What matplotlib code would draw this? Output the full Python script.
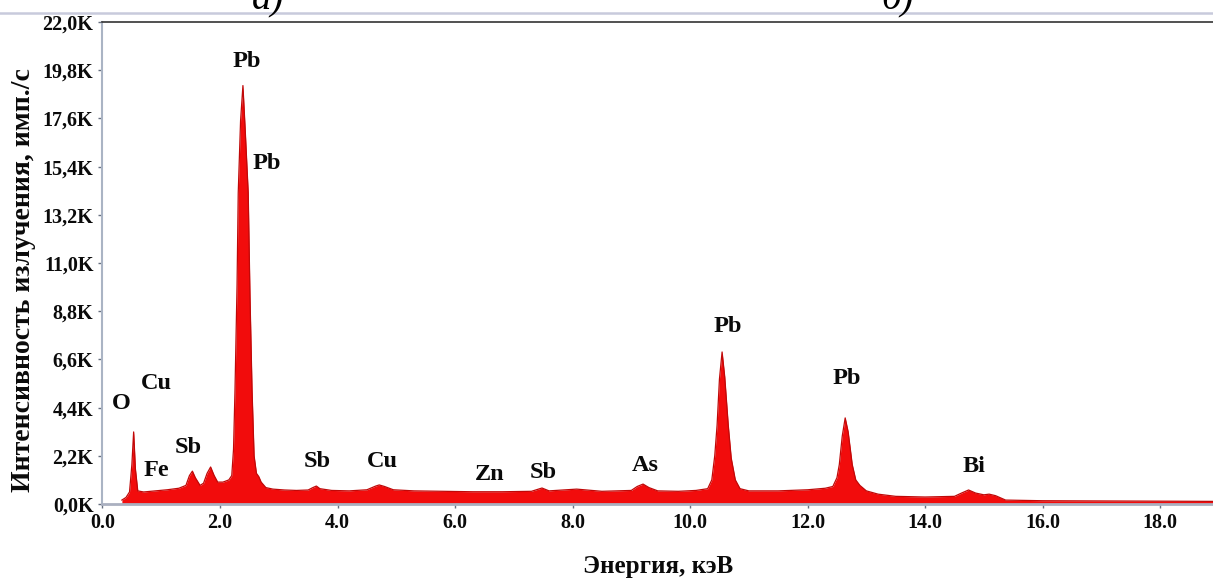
import matplotlib
matplotlib.use("Agg")
import matplotlib.pyplot as plt
from matplotlib.lines import Line2D

# EDS spectrum, energy in keV and intensity in counts/s
energy = [0.33, 0.40, 0.46, 0.50, 0.53, 0.56, 0.60, 0.70, 0.90, 1.10, 1.30,
          1.42, 1.48, 1.53, 1.58, 1.66, 1.72, 1.78, 1.84, 1.90, 1.96, 2.05,
          2.15, 2.20, 2.23, 2.255, 2.29, 2.31, 2.35, 2.39, 2.43, 2.48, 2.51,
          2.545, 2.58, 2.62, 2.66, 2.70, 2.78, 2.90, 3.10, 3.30, 3.50, 3.58,
          3.64, 3.70, 3.90, 4.20, 4.50, 4.65, 4.71, 4.80, 4.95, 5.30, 5.80,
          6.30, 6.80, 7.30, 7.48, 7.60, 8.07, 8.50, 9.00, 9.10, 9.20, 9.30,
          9.45, 9.80, 10.10, 10.30, 10.37, 10.42, 10.46, 10.50, 10.545, 10.59,
          10.65, 10.70, 10.77, 10.85, 11.00, 11.50, 12.00, 12.30, 12.43, 12.50,
          12.54, 12.59, 12.64, 12.69, 12.76, 12.82, 12.89, 13.00, 13.20, 13.50,
          14.00, 14.50, 14.62, 14.74, 14.86, 15.00, 15.09, 15.20, 15.37, 16.00,
          17.00, 18.00, 18.90]
counts = [180, 300, 550, 1800, 3290, 1600, 600, 550, 600, 650, 720,
          850, 1300, 1500, 1200, 850, 950, 1400, 1690, 1300, 1000, 1000,
          1100, 1300, 2500, 5200, 10000, 14200, 17500, 19100, 17000, 14200, 9500,
          5200, 2200, 1400, 1250, 1000, 750, 680, 640, 620, 640, 750,
          820, 700, 620, 600, 650, 820, 870, 800, 650, 600, 580,
          560, 560, 580, 730, 600, 680, 580, 620, 800, 910, 750,
          600, 580, 620, 700, 1100, 2200, 3600, 5700, 6940, 5800,
          3600, 2100, 1100, 700, 600, 600, 650, 720, 800, 1200,
          1800, 3100, 3930, 3300, 1800, 1100, 850, 600, 450, 350,
          320, 350, 500, 640, 500, 420, 450, 380, 180, 150,
          140, 130, 120]

# element labels: text, x (keV), y (counts/s)
peak_names = ["Pb", "Pb", "O", "Cu", "Fe", "Sb", "Sb", "Cu", "Zn", "Sb",
              "As", "Pb", "Pb", "Bi"]
peak_x = [2.46, 2.80, 0.32, 0.91, 0.91, 1.46, 3.65, 4.77, 6.59, 7.50,
          9.23, 10.65, 12.66, 14.83]
peak_y = [20200, 15560, 4610, 5520, 1550, 2600, 1960, 1920, 1370, 1460,
          1780, 8080, 5750, 1730]

y_ticks = [0, 2200, 4400, 6600, 8800, 11000, 13200, 15400, 17600, 19800, 22000]
y_tick_labels = ["0,0K", "2,2K", "4,4K", "6,6K", "8,8K", "11,0K", "13,2K",
                 "15,4K", "17,6K", "19,8K", "22,0K"]
x_ticks = [0, 2, 4, 6, 8, 10, 12, 14, 16, 18]
x_tick_labels = ["0.0", "2.0", "4.0", "6.0", "8.0", "10.0", "12.0", "14.0",
                 "16.0", "18.0"]

serif = ["Liberation Serif", "DejaVu Serif"]
plt.rcParams["font.family"] = serif

fig = plt.figure(figsize=(12.13, 5.81), dpi=100)
ax = fig.add_axes([0.0845, 0.1325, 0.9155, 0.8296])

ax.fill_between(energy, counts, 0, color="#f20c0c", lw=0)
ax.plot(energy, counts, color="#c00808", lw=0.9)

for name, x, y in zip(peak_names, peak_x, peak_y):
    ax.text(x, y, name, ha="center", va="center", fontsize=17.5,
            fontweight="bold", color="#0a0a0a")

ax.set_xlim(0, 18.9)
ax.set_ylim(0, 22000)
ax.set_yticks(y_ticks)
ax.set_yticklabels(y_tick_labels)
ax.set_xticks(x_ticks)
ax.set_xticklabels(x_tick_labels)
ax.tick_params(axis="both", labelsize=14.5, length=3, width=1, color="#667080",
               labelcolor="#0a0a0a", pad=3.5)
for lbl in ax.get_xticklabels() + ax.get_yticklabels():
    lbl.set_fontweight("bold")

ax.spines["right"].set_visible(False)
ax.spines["top"].set_color("#333333")
ax.spines["top"].set_linewidth(1.2)
ax.spines["left"].set_color("#aab4c4")
ax.spines["left"].set_linewidth(1.5)
ax.spines["bottom"].set_color("#aab0c0")
ax.spines["bottom"].set_linewidth(2)

ax.set_xlabel("Энергия, кэВ", fontsize=18, fontweight="bold", labelpad=16,
              color="#0a0a0a")
fig.text(24 / 1213, 1 - 280 / 581, "Интенсивность излучения, имп./с",
         rotation=90, ha="center", va="center", fontsize=20, fontweight="bold",
         color="#0a0a0a")

# panel captions cut by the top edge, and the separator under them
fig.text(268 / 1213, 1 - 9 / 581, "а)", fontsize=28, style="italic",
         ha="center", va="baseline")
fig.text(898 / 1213, 1 - 9 / 581, "б)", fontsize=28, style="italic",
         ha="center", va="baseline")
fig.add_artist(Line2D([0, 1], [1 - 13 / 581, 1 - 13 / 581],
                      transform=fig.transFigure, color="#c8cadc", lw=1.8))

fig.savefig("out.png", dpi=100)
